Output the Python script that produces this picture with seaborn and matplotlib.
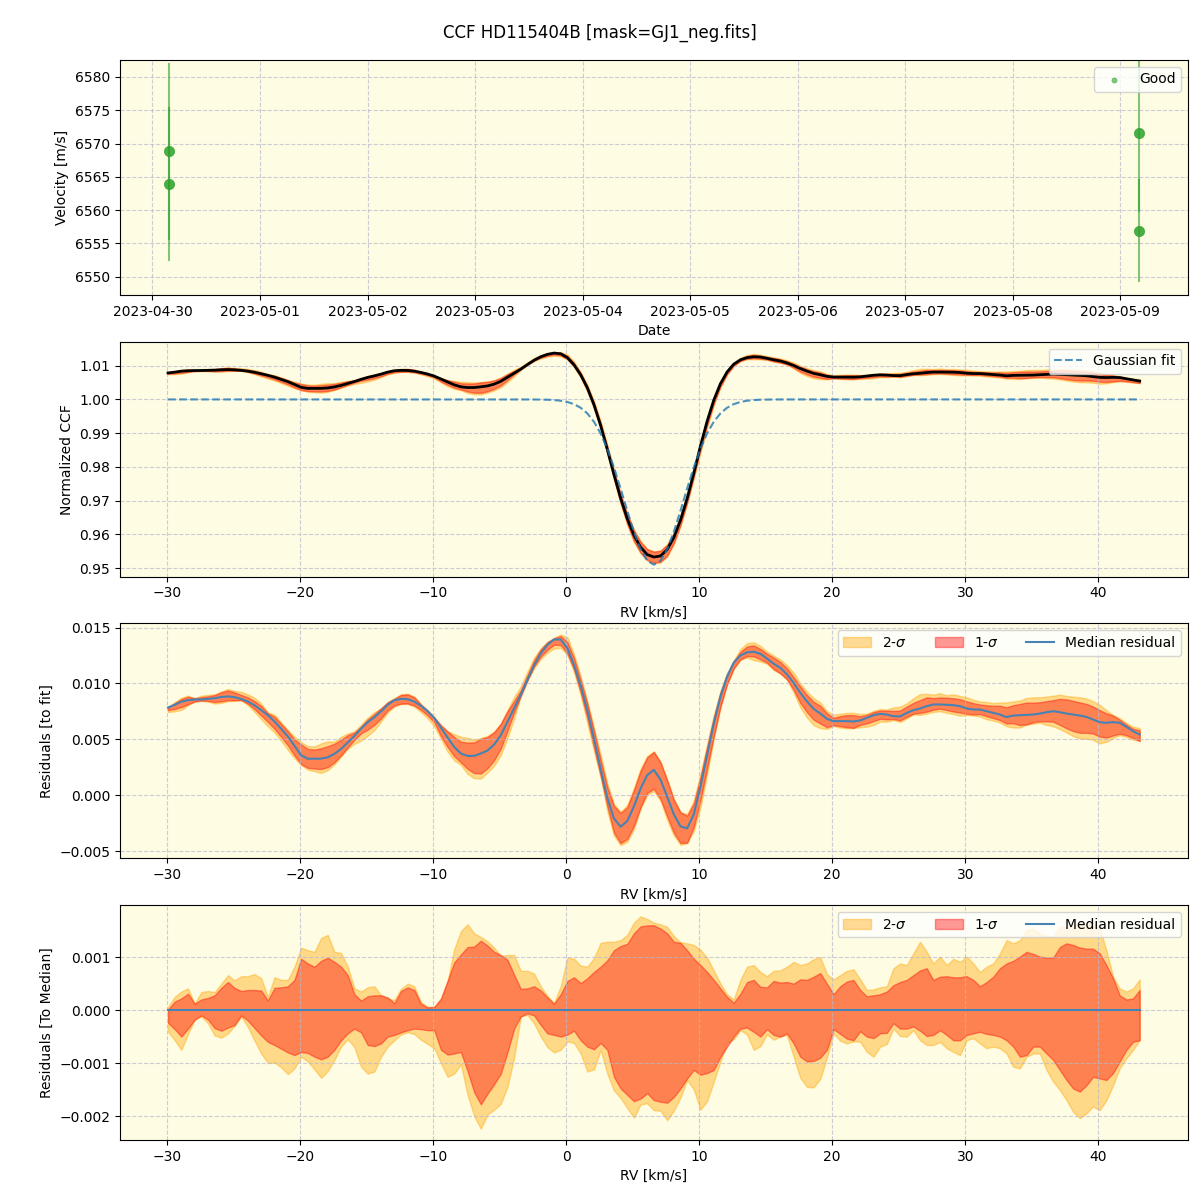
import numpy as np
import pandas as pd
import matplotlib
matplotlib.use("Agg")
import matplotlib.pyplot as plt
import matplotlib.dates as mdates
import seaborn as sns

TITLE = "CCF HD115404B [mask=GJ1_neg.fits]"

# ---- panel 1: RV time series ----
obs_times = ["2023-04-30 03:35", "2023-04-30 03:36", "2023-05-09 04:14", "2023-05-09 04:15"]
obs_vel = [6568.85, 6563.95, 6571.55, 6556.95]
obs_err = [13.25, 11.55, 11.8, 7.75]
vel_ylim = (6547.3, 6582.55)

# ---- RV grid (km/s) ----
RV = np.round(-29.9 + 0.5 * np.arange(147), 2)

# ---- Gaussian fit parameters ----
GAUSS_BASE = 1.0
GAUSS_DEPTH = 0.049
GAUSS_CENTER = 6.6
GAUSS_SIGMA = 2.25

# ---- median residual to fit (units 1e-3) ----
median_resid_e3 = [
    7.85, 8.08, 8.38, 8.50, 8.56, 8.57, 8.62, 8.68, 8.79, 8.84,
    8.77, 8.61, 8.38, 8.04, 7.61, 7.16, 6.60, 5.95, 5.27, 4.42,
    3.58, 3.27, 3.27, 3.28, 3.40, 3.71, 4.15, 4.72, 5.31, 5.96,
    6.53, 6.98, 7.50, 8.09, 8.50, 8.62, 8.59, 8.38, 8.00, 7.53,
    6.91, 6.06, 5.17, 4.32, 3.74, 3.52, 3.53, 3.74, 4.00, 4.54,
    5.37, 6.57, 7.76, 8.99, 10.33, 11.62, 12.68, 13.45, 13.93, 13.93,
    13.15, 11.64, 9.79, 7.60, 5.05, 2.36, -0.20, -2.07, -2.80, -2.30,
    -1.00, 0.60, 1.80, 2.28, 1.40, -0.12, -1.70, -2.78, -2.95, -1.70,
    0.78, 3.60, 6.40, 8.80, 10.60, 11.85, 12.50, 12.78, 12.83, 12.65,
    12.22, 11.76, 11.40, 10.81, 10.06, 9.15, 8.40, 7.73, 7.31, 6.84,
    6.63, 6.63, 6.63, 6.60, 6.69, 6.93, 7.16, 7.28, 7.22, 7.07,
    7.05, 7.37, 7.61, 7.76, 7.97, 8.12, 8.12, 8.09, 8.06, 7.97,
    7.76, 7.67, 7.67, 7.52, 7.37, 7.22, 6.99, 7.13, 7.16, 7.19,
    7.22, 7.31, 7.43, 7.52, 7.43, 7.31, 7.22, 7.13, 7.01, 6.78,
    6.54, 6.48, 6.54, 6.48, 6.12, 5.73, 5.43,
]

# ---- quantile offsets from the median (units 1e-3) ----
hi2_e3 = [
    0.06, 0.25, 0.35, 0.41, 0.12, 0.34, 0.36, 0.34, 0.50, 0.66,
    0.56, 0.64, 0.64, 0.68, 0.60, 0.25, 0.62, 0.57, 0.57, 0.82,
    1.18, 1.13, 1.10, 1.36, 1.42, 1.10, 1.08, 0.82, 0.41, 0.35,
    0.43, 0.45, 0.28, 0.22, 0.19, 0.40, 0.50, 0.45, 0.15, 0.06,
    0.06, 0.19, 0.55, 1.15, 1.49, 1.62, 1.45, 1.38, 1.30, 1.18,
    1.02, 1.04, 1.04, 0.74, 0.74, 0.69, 0.45, 0.27, 0.13, 0.45,
    0.99, 0.97, 0.84, 0.82, 0.98, 1.27, 1.29, 1.29, 1.32, 1.42,
    1.65, 1.77, 1.72, 1.65, 1.62, 1.57, 1.40, 1.28, 1.26, 1.23,
    1.14, 0.99, 0.75, 0.50, 0.30, 0.20, 0.57, 0.82, 0.85, 0.72,
    0.64, 0.74, 0.75, 0.82, 0.91, 0.85, 0.88, 0.96, 1.00, 0.68,
    0.58, 0.66, 0.74, 0.77, 0.58, 0.38, 0.39, 0.43, 0.45, 0.79,
    0.88, 0.85, 1.07, 1.29, 1.10, 0.88, 1.01, 0.85, 0.97, 0.91,
    1.01, 0.88, 0.72, 0.82, 0.88, 1.07, 1.32, 1.26, 1.32, 1.51,
    1.54, 1.45, 1.40, 1.38, 1.57, 1.57, 1.60, 1.64, 1.64, 1.64,
    1.54, 1.13, 0.63, 0.41, 0.35, 0.41, 0.58,
]
hi1_e3 = [
    0.01, 0.16, 0.22, 0.31, 0.12, 0.20, 0.23, 0.28, 0.42, 0.53,
    0.42, 0.36, 0.38, 0.38, 0.37, 0.18, 0.42, 0.43, 0.45, 0.57,
    0.97, 0.88, 0.82, 0.93, 0.99, 0.91, 0.82, 0.66, 0.30, 0.18,
    0.26, 0.28, 0.28, 0.24, 0.13, 0.36, 0.43, 0.38, 0.12, 0.05,
    0.06, 0.22, 0.55, 0.90, 1.05, 1.19, 1.20, 1.31, 1.22, 1.10,
    1.04, 0.95, 0.67, 0.40, 0.41, 0.45, 0.37, 0.24, 0.12, 0.30,
    0.55, 0.62, 0.51, 0.60, 0.72, 0.82, 0.94, 1.13, 1.21, 1.25,
    1.45, 1.58, 1.60, 1.60, 1.54, 1.45, 1.29, 1.27, 1.13, 0.97,
    0.85, 0.72, 0.57, 0.41, 0.25, 0.14, 0.31, 0.53, 0.57, 0.44,
    0.43, 0.55, 0.52, 0.53, 0.50, 0.58, 0.57, 0.63, 0.70, 0.50,
    0.30, 0.45, 0.54, 0.57, 0.38, 0.26, 0.28, 0.30, 0.35, 0.47,
    0.53, 0.57, 0.66, 0.75, 0.79, 0.57, 0.63, 0.64, 0.62, 0.62,
    0.64, 0.57, 0.45, 0.53, 0.63, 0.79, 0.88, 0.93, 1.01, 1.10,
    1.06, 1.01, 0.99, 0.99, 1.19, 1.26, 1.23, 1.18, 1.16, 1.16,
    1.07, 0.85, 0.60, 0.28, 0.20, 0.22, 0.38,
]
lo1_e3 = [
    -0.24, -0.36, -0.50, -0.35, -0.18, -0.10, -0.18, -0.34, -0.39, -0.33,
    -0.28, -0.10, -0.20, -0.34, -0.48, -0.60, -0.66, -0.73, -0.80, -0.85,
    -0.79, -0.81, -0.88, -0.93, -0.88, -0.75, -0.57, -0.44, -0.35, -0.42,
    -0.66, -0.68, -0.63, -0.50, -0.47, -0.42, -0.38, -0.35, -0.36, -0.38,
    -0.38, -0.75, -0.84, -0.82, -0.79, -1.15, -1.55, -1.78, -1.58, -1.40,
    -1.20, -0.80, -0.35, -0.12, -0.06, -0.10, -0.28, -0.44, -0.47, -0.50,
    -0.46, -0.39, -0.57, -0.69, -0.74, -0.62, -0.75, -1.26, -1.48, -1.60,
    -1.72, -1.67, -1.57, -1.70, -1.73, -1.75, -1.64, -1.48, -1.29, -1.13,
    -1.22, -1.19, -1.13, -0.88, -0.69, -0.50, -0.35, -0.33, -0.41, -0.50,
    -0.36, -0.47, -0.50, -0.44, -0.63, -0.88, -0.97, -0.96, -0.90, -0.75,
    -0.36, -0.45, -0.54, -0.57, -0.40, -0.50, -0.53, -0.44, -0.43, -0.25,
    -0.35, -0.35, -0.31, -0.39, -0.49, -0.47, -0.38, -0.47, -0.57, -0.57,
    -0.47, -0.44, -0.41, -0.45, -0.47, -0.50, -0.57, -0.69, -0.88, -0.85,
    -0.69, -0.69, -0.82, -0.94, -1.13, -1.32, -1.48, -1.54, -1.42, -1.26,
    -1.29, -1.32, -1.19, -0.97, -0.75, -0.60, -0.57,
]
lo2_e3 = [
    -0.41, -0.57, -0.75, -0.45, -0.18, -0.12, -0.25, -0.48, -0.52, -0.44,
    -0.30, -0.12, -0.32, -0.58, -0.82, -1.00, -0.99, -1.08, -1.21, -1.10,
    -0.88, -0.97, -1.12, -1.28, -1.15, -0.94, -0.69, -0.55, -0.70, -1.07,
    -1.20, -1.16, -0.88, -0.69, -0.57, -0.46, -0.42, -0.45, -0.56, -0.64,
    -0.72, -1.00, -1.26, -1.20, -1.02, -1.60, -2.00, -2.24, -1.97, -1.88,
    -1.77, -1.45, -0.90, -0.12, -0.09, -0.25, -0.50, -0.70, -0.80, -0.75,
    -0.59, -0.62, -0.82, -1.16, -1.12, -0.75, -1.20, -1.52, -1.66, -1.85,
    -2.03, -1.78, -1.76, -1.89, -1.90, -2.08, -1.90, -1.65, -1.32, -1.50,
    -1.88, -1.72, -1.35, -0.97, -0.62, -0.55, -0.38, -0.46, -0.75, -0.68,
    -0.46, -0.56, -0.50, -0.47, -0.88, -1.28, -1.45, -1.46, -1.30, -0.90,
    -0.44, -0.58, -0.63, -0.59, -0.60, -0.79, -0.88, -0.69, -0.64, -0.35,
    -0.49, -0.50, -0.38, -0.57, -0.66, -0.66, -0.60, -0.72, -0.79, -0.85,
    -0.57, -0.53, -0.63, -0.72, -0.69, -0.72, -0.82, -1.07, -1.10, -0.88,
    -0.82, -0.82, -1.13, -1.35, -1.51, -1.70, -1.92, -2.04, -1.95, -1.82,
    -1.89, -1.70, -1.42, -1.10, -0.91, -0.75, -0.57,
]

# ---------------- derived series ----------------
med = np.array(median_resid_e3) * 1e-3
hi2 = np.array(hi2_e3) * 1e-3
hi1 = np.array(hi1_e3) * 1e-3
lo1 = np.array(lo1_e3) * 1e-3
lo2 = np.array(lo2_e3) * 1e-3
gauss = GAUSS_BASE - GAUSS_DEPTH * np.exp(-0.5 * ((RV - GAUSS_CENTER) / GAUSS_SIGMA) ** 2)
ccf_med = gauss + med

# ---------------- style ----------------
plt.rcParams.update({
    "font.family": ["DejaVu Sans"],
    "axes.axisbelow": "line",
})
BG = "#fefce3"
C2 = "orange"
C1 = "red"
MEDC = "#4682b4"
A2 = 0.4
A1 = 0.4

fig, axes = plt.subplots(4, 1, figsize=(12, 12), dpi=100)
fig.subplots_adjust(left=0.1, right=0.99, top=0.95, bottom=0.05, hspace=0.2)
fig.suptitle(TITLE, fontsize=12, y=0.98)

for ax in axes:
    ax.set_facecolor(BG)
    ax.grid(True, linestyle="--", color="#b8b8d0", linewidth=0.8, alpha=0.7)

# ---- panel 1 ----
ax = axes[0]
times = pd.to_datetime(obs_times)
ax.errorbar(times, obs_vel, yerr=obs_err, fmt="none", ecolor="tab:green",
            elinewidth=1.5, alpha=0.6, zorder=2)
sns.scatterplot(x=times, y=obs_vel, ax=ax, color="#2ca02c", s=55, alpha=0.85,
                edgecolor="#2ca02c", linewidth=0.5, label="Good", zorder=3)
ax.set_ylim(*vel_ylim)
ax.xaxis.set_major_locator(mdates.DayLocator())
ax.xaxis.set_major_formatter(mdates.DateFormatter("%Y-%m-%d"))
ax.set_xlabel("Date")
ax.set_ylabel("Velocity [m/s]")
leg = ax.legend(loc="upper right", markerscale=0.5)
for h in leg.legend_handles:
    h.set_alpha(0.6)

# ---- panel 2 ----
ax = axes[1]
ax.fill_between(RV, ccf_med + lo2, ccf_med + hi2, color=C2, alpha=A2)
ax.fill_between(RV, ccf_med + lo1, ccf_med + hi1, color=C1, alpha=A1)
sns.lineplot(x=RV, y=ccf_med, ax=ax, color="black", linewidth=2, estimator=None)
sns.lineplot(x=RV, y=gauss, ax=ax, color="tab:blue", alpha=0.8, linewidth=1.5,
             linestyle="--", label="Gaussian fit", estimator=None)
ax.set_ylim(0.9475, 1.0171)
ax.set_xlabel("RV [km/s]")
ax.set_ylabel("Normalized CCF")
ax.legend(loc="upper right")

# ---- panel 3 ----
ax = axes[2]
ax.fill_between(RV, med + lo2, med + hi2, color=C2, alpha=A2, label="2-$\\sigma$")
ax.fill_between(RV, med + lo1, med + hi1, color=C1, alpha=A1, label="1-$\\sigma$")
sns.lineplot(x=RV, y=med, ax=ax, color=MEDC, linewidth=1.5, label="Median residual",
             estimator=None)
ax.set_ylim(-0.005625, 0.01536)
ax.set_xlabel("RV [km/s]")
ax.set_ylabel("Residuals [to fit]")
ax.legend(loc="upper right", ncol=3)

# ---- panel 4 ----
ax = axes[3]
ax.fill_between(RV, lo2, hi2, color=C2, alpha=A2, label="2-$\\sigma$")
ax.fill_between(RV, lo1, hi1, color=C1, alpha=A1, label="1-$\\sigma$")
sns.lineplot(x=RV, y=med - med, ax=ax, color=MEDC, linewidth=1.5,
             label="Median residual", estimator=None)
ax.set_ylim(-0.002453, 0.00198)
ax.set_xlabel("RV [km/s]")
ax.set_ylabel("Residuals [To Median]")
ax.legend(loc="upper right", ncol=3)

for ax in axes[1:]:
    ax.set_xlim(-33.51, 46.73)

fig.savefig("out.png", dpi=100)
